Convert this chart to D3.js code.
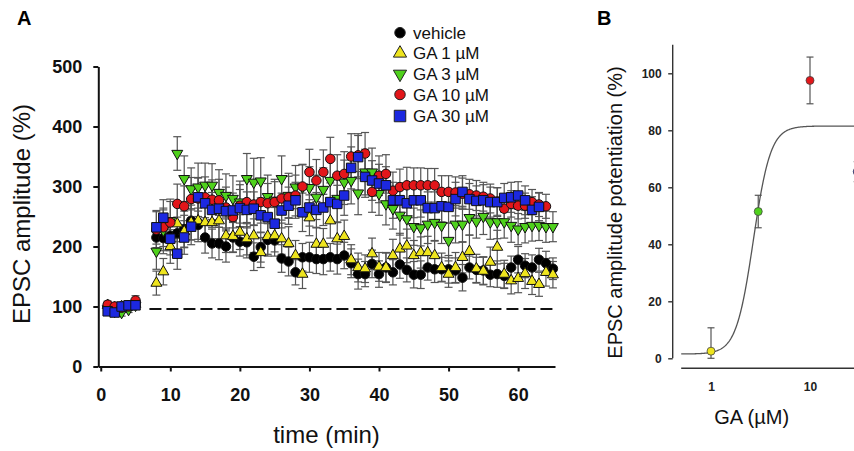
<!DOCTYPE html>
<html><head><meta charset="utf-8">
<script src="https://cdn.jsdelivr.net/npm/d3@7"></script>
<style>body{margin:0;background:#fff} svg{display:block;font-family:"Liberation Sans",Arial,Helvetica,sans-serif}</style>
</head><body><svg id="c" width="854" height="451"></svg>
<script>
// ---------- Panel A data ----------
const minutes = [1,2,3,4,5,8,9,10,11,12,13,14,15,16,17,18,19,20,21,22,23,24,25,26,27,28,29,30,31,32,33,34,35,36,37,38,39,40,41,42,43,44,45,46,47,48,49,50,51,52,53,54,55,56,57,58,59,60,61,62,63,64,65];
const xTicksA = [0,10,20,30,40,50,60];
const yTicksA = [0,100,200,300,400,500];
const baselineLevel = 96;

const vehicleMean = [100,98,100,102,104,
 215,214,218,222,229,243,236,215,205,205,
 200,215,208,207,183,199,211,210,180,175,
 157,182,182,179,179,182,179,185,172,154,
 154,171,154,165,157,170,161,153,153,165,
 162,162,162,160,148,165,161,160,153,154,
 151,165,178,168,165,178,172,163];
const vehicleSem = [6,5,5,6,7,
 24,26,25,27,30,32,28,26,24,27,
 26,25,24,26,23,25,27,26,23,24,
 21,23,25,24,26,23,25,22,24,25,
 21,23,22,24,21,23,20,22,23,21,
 22,20,23,21,22,19,21,23,20,22,
 21,19,22,20,21,19,20,18];

const ga1Mean = [102,98,100,100,104,
 139,158,200,238,225,240,243,240,240,243,
 218,217,224,213,218,190,217,218,213,205,
 185,154,248,204,204,243,213,217,178,165,
 163,188,166,165,185,196,201,185,190,190,
 185,165,154,165,182,192,163,159,174,199,
 154,143,147,155,142,137,157,153];
const ga1Sem = [5,6,5,5,6,
 20,22,28,30,27,29,31,28,27,30,
 28,26,29,27,28,25,30,27,26,28,
 25,24,30,27,26,29,28,27,25,24,
 23,26,24,25,27,26,28,25,26,27,
 25,24,22,25,26,27,24,23,25,28,
 23,22,24,25,22,20,23,22];

const ga3Mean = [96,92,90,95,102,
 192,227,243,355,313,296,299,302,302,290,
 285,280,274,313,307,309,283,277,313,285,
 299,299,298,282,295,310,280,307,310,289,
 324,324,288,271,263,252,246,233,231,237,
 240,235,210,237,237,248,242,250,241,241,
 241,235,229,233,235,235,233,233];
const ga3Sem = [6,5,6,5,6,
 30,34,36,28,38,35,40,37,36,38,
 36,38,35,42,40,39,36,35,38,37,
 36,38,35,37,36,38,40,37,39,36,
 38,40,36,35,34,33,32,31,30,32,
 31,30,29,31,30,29,28,30,29,28,
 27,28,26,27,26,25,26,25];

const ga10Mean = [103,100,98,100,110,
 228,232,240,271,267,279,280,282,278,277,
 265,249,268,274,270,274,272,274,280,282,
 285,300,324,310,324,346,318,321,350,352,
 355,291,318,321,293,299,302,302,302,302,
 302,291,291,290,288,287,285,283,280,275,
 263,271,268,268,274,270,267,null];
const ga10Sem = [6,5,5,6,8,
 30,32,35,33,34,36,35,34,33,35,
 34,33,35,36,34,35,33,34,36,35,
 34,36,38,35,37,36,35,37,38,36,
 35,34,33,32,31,30,30,29,29,28,
 28,27,27,26,26,25,25,24,24,23,
 23,22,22,21,21,20,20,null];

const ga30Mean = [92,90,100,102,102,
 232,248,213,188,215,233,282,272,261,263,
 259,260,264,261,263,252,249,238,260,268,
 277,257,265,261,265,274,271,285,331,349,
 316,310,305,302,277,277,272,277,277,264,
 264,267,266,279,291,279,276,277,274,274,
 281,282,285,277,261,266,null,null];
const ga30Sem = [6,5,6,5,6,
 28,30,27,26,28,30,32,30,29,31,
 30,29,31,30,28,29,30,27,29,31,
 30,32,31,29,30,32,31,33,35,36,
 34,33,32,31,30,29,28,29,28,27,
 27,26,27,28,27,26,25,26,25,24,
 24,25,23,24,22,23,null,null];

const seriesNames = ["vehicle","GA 1 µM","GA 3 µM","GA 10 µM","GA 30 µM"];

// ---------- Panel B data ----------
const concentrations = [1,3,10,30];
const potentiation = [2.5,51.5,97.5,65.5];
const potentiationSem = [8.2,5.7,8.2,3.5];
const xTicksB = [1,10];
const yTicksB = [0,20,40,60,80,100];
const hillBottom = 1.5, hillTop = 81.5, hillEC50 = 2.68, hillSlope = 5;

// ---------- styles ----------
const series = [
  {name:seriesNames[0], mean:vehicleMean, sem:vehicleSem, fill:"#000000", shape:"circle"},
  {name:seriesNames[1], mean:ga1Mean, sem:ga1Sem, fill:"#eee41e", shape:"up"},
  {name:seriesNames[2], mean:ga3Mean, sem:ga3Sem, fill:"#4fd11c", shape:"down"},
  {name:seriesNames[3], mean:ga10Mean, sem:ga10Sem, fill:"#e3161a", shape:"circle"},
  {name:seriesNames[4], mean:ga30Mean, sem:ga30Sem, fill:"#1c28e0", shape:"square"}
];
const shapeB = ["#eee41e","#4fd11c","#e3161a","#1c28e0"];

const svg = d3.select("#c");

function symPath(shape, s) {
  if (shape === "circle") return d3.symbol(d3.symbolCircle, Math.PI*(s/2)*(s/2))();
  if (shape === "square") return d3.symbol(d3.symbolSquare, s*s)();
  const side = s*1.15;
  return d3.symbol(d3.symbolTriangle, side*side*Math.sqrt(3)/4)();
}

// ---------- Panel A ----------
const xA = d3.scaleLinear().domain([-0.35, 65.3]).range([98.3, 555]);
const yA = d3.scaleLinear().domain([0, 500]).range([366.5, 66.5]);

const gA = svg.append("g");
const axY = gA.append("g").attr("transform", `translate(${xA(-0.35)},0)`)
  .call(d3.axisLeft(yA).tickValues(yTicksA).tickSize(5).tickSizeOuter(0).tickPadding(11));
const axX = gA.append("g").attr("transform", `translate(0,${yA(0)})`)
  .call(d3.axisBottom(xA).tickValues(xTicksA).tickSize(5).tickSizeOuter(0).tickPadding(17));
[axY, axX].forEach(a => {
  a.select(".domain").attr("stroke","#111").attr("stroke-width",2);
  a.selectAll(".tick line").attr("stroke","#111").attr("stroke-width",2);
  a.selectAll(".tick text").attr("font-size",18).attr("font-weight","bold").attr("fill","#111")
   .attr("font-family","Liberation Sans, Arial, sans-serif");
});

// dashed baseline
gA.append("line").attr("x1", xA(7)).attr("x2", 556)
  .attr("y1", yA(baselineLevel)).attr("y2", yA(baselineLevel))
  .attr("stroke","#111").attr("stroke-width",2).attr("stroke-dasharray","12,5");

// error bars
const eb = gA.append("g").attr("stroke","#555").attr("stroke-width",1.2);
series.forEach(s => {
  minutes.forEach((t,i) => {
    const m = s.mean[i], e = s.sem[i];
    if (m == null || e == null) return;
    const x = xA(t), y1 = yA(m+e), y2 = yA(m-e);
    eb.append("line").attr("x1",x).attr("x2",x).attr("y1",y1).attr("y2",y2);
    eb.append("line").attr("x1",x-4).attr("x2",x+4).attr("y1",y1).attr("y2",y1);
    eb.append("line").attr("x1",x-4).attr("x2",x+4).attr("y1",y2).attr("y2",y2);
  });
});
// markers
series.forEach(s => {
  const g = gA.append("g");
  minutes.forEach((t,i) => {
    const m = s.mean[i];
    if (m == null) return;
    g.append("path").attr("d", symPath(s.shape, 9.5))
      .attr("transform", `translate(${xA(t)},${yA(m)})` + (s.shape==="down"?" rotate(180)":""))
      .attr("fill", s.fill).attr("stroke","#111").attr("stroke-width",1);
  });
});

// legend
const legY = [32.7, 53.3, 74, 94.5, 116];
series.forEach((s,i) => {
  gA.append("path").attr("d", symPath(s.shape, s.shape==="circle"?10.5:11.5))
    .attr("transform", `translate(400,${legY[i]})` + (s.shape==="down"?" rotate(180)":""))
    .attr("fill", s.fill).attr("stroke","#222").attr("stroke-width",1);
  gA.append("text").attr("x",413).attr("y",legY[i]).attr("dy","0.36em")
    .attr("font-size",17).attr("fill","#111").text(s.name);
});

// titles
gA.append("text").attr("transform","translate(30,214) rotate(-90)").attr("text-anchor","middle")
  .attr("font-size",24).attr("fill","#111").text("EPSC amplitude (%)");
gA.append("text").attr("x",326.5).attr("y",442.5).attr("text-anchor","middle")
  .attr("font-size",24).attr("fill","#111").text("time (min)");
svg.append("text").attr("x",17).attr("y",24.5).attr("font-size",20).attr("font-weight","bold").text("A");

// ---------- Panel B ----------
const xB = d3.scaleLog().domain([1, 10]).range([711, 810]);
const yB = d3.scaleLinear().domain([0, 110]).range([358.3, 44.8]);
const gB = svg.append("g");
svg.append("text").attr("x",597).attr("y",24.5).attr("font-size",20).attr("font-weight","bold").text("B");

const bY = gB.append("g").attr("transform","translate(672.7,0)")
  .call(d3.axisLeft(yB).tickValues(yTicksB).tickSize(4.5).tickSizeOuter(0).tickPadding(6.5));
bY.select(".domain").attr("d", `M0,${yB(110)}V${yB(0)}`);
const bX = gB.append("g").attr("transform","translate(0,368.3)")
  .call(d3.axisBottom(xB).tickValues(xTicksB).tickFormat(d3.format("d")).tickSize(0).tickPadding(14));
bX.select(".domain").attr("d", `M${xB(0.5)},0H860`);
[bY,bX].forEach(a => {
  a.select(".domain").attr("stroke","#333").attr("stroke-width",1.4);
  a.selectAll(".tick line").attr("stroke","#333").attr("stroke-width",1.4);
  a.selectAll(".tick text").attr("font-size",12).attr("font-weight","bold").attr("fill","#222")
   .attr("font-family","Liberation Sans, Arial, sans-serif");
});

// Hill fit curve
const curveX = d3.range(-0.301, 1.6, 0.005).map(l => Math.pow(10,l));
const hill = c => hillBottom + (hillTop-hillBottom)/(1+Math.pow(hillEC50/c, hillSlope));
gB.append("path").datum(curveX)
  .attr("d", d3.line().x(c => xB(c)).y(c => yB(hill(c))))
  .attr("fill","none").attr("stroke","#555").attr("stroke-width",1.3);

// points with error bars
concentrations.forEach((c,i) => {
  const x = xB(c), m = potentiation[i], e = potentiationSem[i];
  const y1 = yB(m+e), y2 = yB(Math.max(0, m-e));
  const g = gB.append("g").attr("stroke","#555").attr("stroke-width",1.2);
  g.append("line").attr("x1",x).attr("x2",x).attr("y1",y1).attr("y2",y2);
  g.append("line").attr("x1",x-3.5).attr("x2",x+3.5).attr("y1",y1).attr("y2",y1);
  g.append("line").attr("x1",x-3.5).attr("x2",x+3.5).attr("y1",y2).attr("y2",y2);
  gB.append("circle").attr("cx",x).attr("cy",yB(m)).attr("r",4)
    .attr("fill",shapeB[i]).attr("stroke","#444").attr("stroke-width",0.8);
});

gB.append("text").attr("transform","translate(621.5,212.5) rotate(-90)").attr("text-anchor","middle")
  .attr("font-size",20).attr("fill","#111").text("EPSC amplitude potentiation (%)");
gB.append("text").attr("x",751.7).attr("y",424).attr("text-anchor","middle")
  .attr("font-size",20).attr("fill","#111").text("GA (µM)");
</script></body></html>
